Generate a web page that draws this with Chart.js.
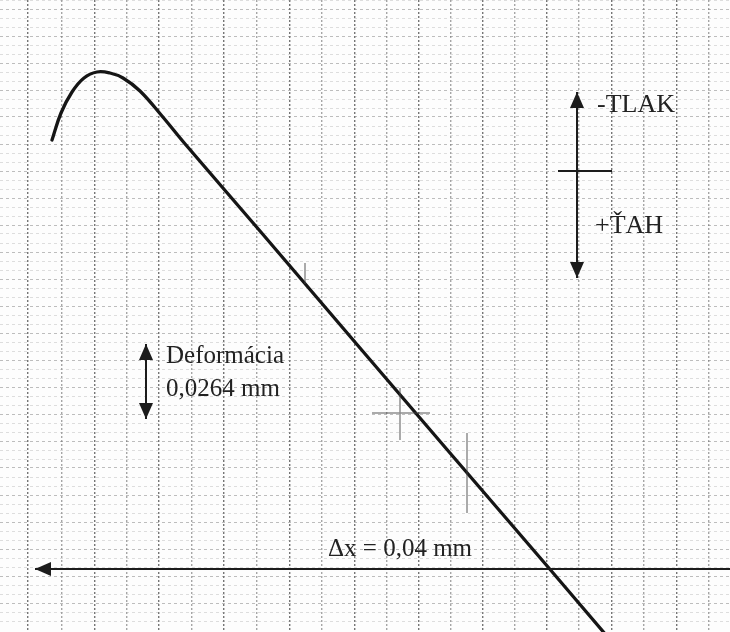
<!DOCTYPE html>
<html>
<head>
<meta charset="utf-8">
<script src="https://cdn.jsdelivr.net/npm/chart.js@4"></script>
<style>
  html, body { margin: 0; padding: 0; background: #fdfdfd; }
  #wrap { width: 730px; height: 632px; }
</style>
</head>
<body>
<div id="wrap"><canvas id="chart"></canvas></div>
<script>
// recorder trace (paper units, y grows downward)
const curveX = [52, 61, 72, 84, 97, 110, 123, 140, 162, 186, 260, 360, 450, 548, 606];
const curveY = [140, 113, 92, 78, 72, 73, 78, 91, 116, 145, 231, 348, 453, 567, 635];

// vertical rulings of the paper
const gridX = [28, 62, 95, 127, 159, 192, 224, 257, 290, 322, 355, 387, 419, 451, 483, 515, 547, 579, 612, 644, 677, 709];

// reference line and arrows
const baseLineX = [35, 730];
const baseLineY = [569, 569];
const deformArrowX = [146, 146];
const deformArrowY = [344, 419];
const forceArrowX = [577, 577];
const forceArrowY = [92, 278];
const zeroTickX = [558, 612];
const zeroTickY = [171, 171];

// pencil marks on the strip
const marksX = [305, 305, null, 372, 430, null, 400, 400, null, 467, 467];
const marksY = [263, 284, null, 413, 413, null, 388, 440, null, 433, 513];

const notes = [
  { text: '-TLAK', x: 597, y: 112, size: 26 },
  { text: '+ŤAH', x: 595, y: 233, size: 26 },
  { text: 'Deformácia', x: 166, y: 363, size: 25 },
  { text: '0,0264 mm', x: 166, y: 396, size: 25 },
  { text: 'Δx = 0,04 mm', x: 328, y: 556, size: 25 }
];

const pts = (xs, ys) => xs.map((x, i) => ({ x: x, y: ys[i] }));

const arrowHeads = {
  id: 'arrowHeads',
  afterDatasetsDraw(chart) {
    const ctx = chart.ctx;
    chart.data.datasets.forEach((ds, i) => {
      if (!ds.arrows) return;
      const p = chart.getDatasetMeta(i).data;
      ds.arrows.forEach(end => {
        const tip = end === 'start' ? p[0] : p[p.length - 1];
        const from = end === 'start' ? p[1] : p[p.length - 2];
        const ang = Math.atan2(tip.y - from.y, tip.x - from.x);
        const len = 16, half = 7;
        ctx.save();
        ctx.translate(tip.x, tip.y);
        ctx.rotate(ang);
        ctx.beginPath();
        ctx.moveTo(0, 0);
        ctx.lineTo(-len, -half);
        ctx.lineTo(-len, half);
        ctx.closePath();
        ctx.fillStyle = '#1c1c1c';
        ctx.fill();
        ctx.restore();
      });
    });
  }
};

const labels = {
  id: 'labels',
  afterDatasetsDraw(chart) {
    const ctx = chart.ctx;
    const sx = chart.scales.x, sy = chart.scales.y;
    ctx.save();
    ctx.fillStyle = '#222';
    ctx.textBaseline = 'alphabetic';
    notes.forEach(n => {
      ctx.font = n.size + 'px "Liberation Serif", "DejaVu Serif", serif';
      ctx.fillText(n.text, sx.getPixelForValue(n.x), sy.getPixelForValue(n.y));
    });
    ctx.restore();
  }
};

const paper = {
  id: 'paper',
  beforeDraw(chart) {
    const ctx = chart.ctx;
    ctx.save();
    ctx.fillStyle = '#fdfdfd';
    ctx.fillRect(0, 0, chart.width, chart.height);
    ctx.restore();
  }
};

const lineSet = (data, color, width, extra) => Object.assign({
  data: data,
  showLine: true,
  borderColor: color,
  borderWidth: width,
  pointRadius: 0,
  fill: false,
  tension: 0,
  spanGaps: false
}, extra || {});

new Chart(document.getElementById('chart'), {
  type: 'scatter',
  data: {
    datasets: [
      lineSet(pts(marksX, marksY), 'rgba(70,70,70,0.6)', 1.5),
      lineSet(pts(baseLineX, baseLineY), '#1c1c1c', 2, { arrows: ['start'] }),
      lineSet(pts(deformArrowX, deformArrowY), '#1c1c1c', 2, { arrows: ['start', 'end'] }),
      lineSet(pts(forceArrowX, forceArrowY), '#1c1c1c', 2, { arrows: ['start', 'end'] }),
      lineSet(pts(zeroTickX, zeroTickY), '#1c1c1c', 2),
      lineSet(pts(curveX, curveY), '#151515', 3.3, { tension: 0.4, borderJoinStyle: 'round', borderCapStyle: 'round' })
    ]
  },
  options: {
    responsive: true,
    maintainAspectRatio: false,
    animation: false,
    layout: { padding: 0 },
    plugins: { legend: { display: false }, tooltip: { enabled: false } },
    scales: {
      x: {
        type: 'linear',
        min: 0,
        max: 730,
        afterBuildTicks: s => { s.ticks = gridX.map(v => ({ value: v })); },
        ticks: { display: false },
        border: { display: false, dash: [2, 2] },
        grid: {
          drawTicks: false,
          lineWidth: 1.4,
          color: c => c.index % 2 ? 'rgba(95,95,95,0.55)' : 'rgba(60,60,60,0.7)'
        }
      },
      y: {
        type: 'linear',
        reverse: true,
        min: 0,
        max: 632,
        ticks: { display: false, stepSize: 9 },
        border: { display: false, dash: [3, 3] },
        grid: {
          drawTicks: false,
          lineWidth: 1,
          color: c => c.index % 3 === 0 ? 'rgba(110,110,110,0.45)' : 'rgba(150,150,150,0.3)'
        }
      }
    }
  },
  plugins: [paper, arrowHeads, labels]
});
</script>
</body>
</html>
